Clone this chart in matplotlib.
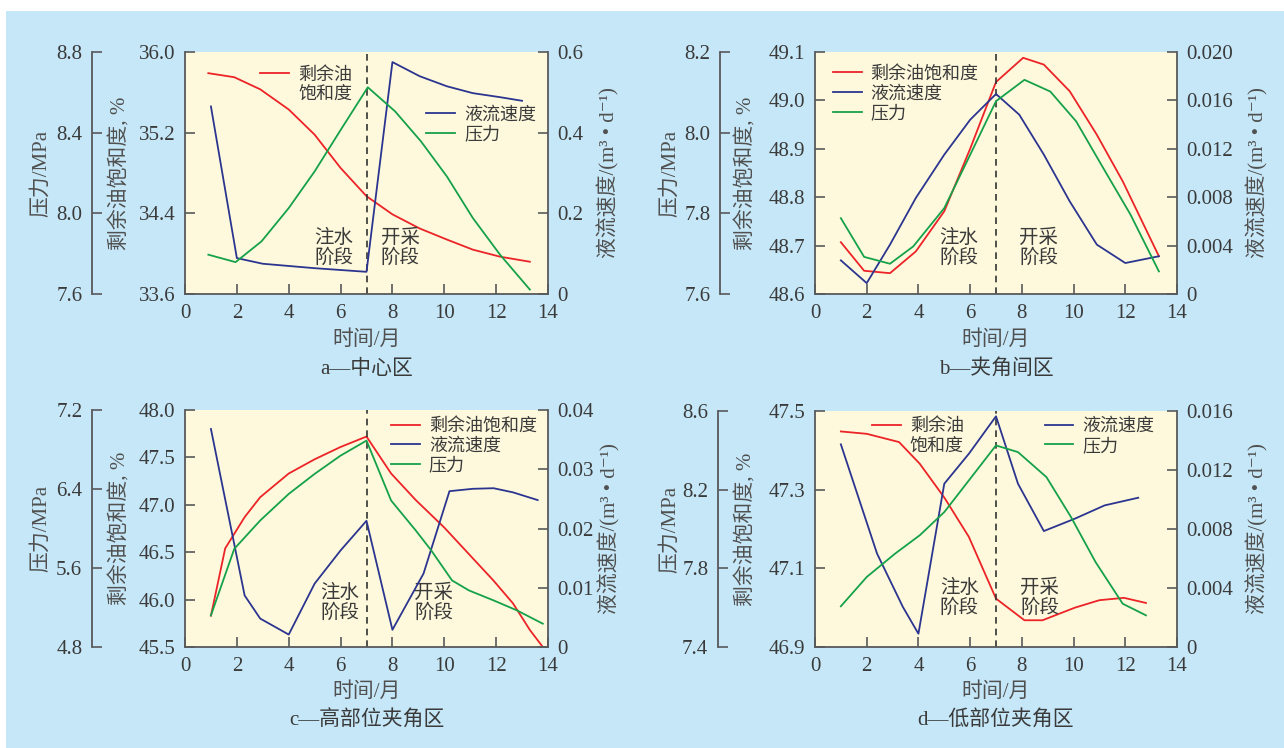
import matplotlib
matplotlib.use("Agg")
import matplotlib.pyplot as plt
from matplotlib.lines import Line2D
from matplotlib.patches import Rectangle

plt.rcParams['font.family'] = ['Liberation Serif', 'Noto Sans CJK SC', 'DejaVu Sans']
plt.rcParams['axes.unicode_minus'] = False

# colours
BG = '#c5e7f7'
PLOT_BG = '#fef9dc'
SPINE = '#58595b'
TXT = '#3a3a3a'
LBL = '#505050'
RED = '#ec2327'
BLUE = '#2b3590'
GREEN = '#15a14a'

# ---- a 中心区 ----
a_sat_x = [0.9, 1.9, 2.9, 4.0, 5.0, 6.0, 7.0, 8.0, 9.05, 10.1, 11.1, 12.15, 13.3]
a_sat = [35.79, 35.75, 35.63, 35.43, 35.18, 34.85, 34.57, 34.39, 34.25, 34.14, 34.04, 33.97, 33.92]
a_vel_x = [1.0, 2.0, 3.0, 5.0, 7.0, 8.0, 9.05, 10.1, 11.1, 12.15, 13.0]
a_vel = [0.465, 0.089, 0.075, 0.064, 0.055, 0.575, 0.540, 0.515, 0.498, 0.488, 0.479]
a_pre_x = [0.9, 1.95, 2.95, 4.0, 5.0, 6.05, 7.05, 8.1, 9.1, 10.1, 11.1, 12.15, 13.3]
a_pre = [7.795, 7.758, 7.861, 8.026, 8.208, 8.423, 8.625, 8.506, 8.357, 8.183, 7.977, 7.795, 7.622]

# ---- b 夹角间区 ----
b_sat_x = [1.0, 1.9, 2.9, 3.9, 5.0, 6.0, 7.0, 8.05, 8.85, 9.85, 10.9, 11.9, 13.3]
b_sat = [48.707, 48.648, 48.643, 48.688, 48.771, 48.900, 49.038, 49.088, 49.074, 49.019, 48.929, 48.833, 48.678]
b_vel_x = [1.0, 2.0, 2.9, 3.9, 5.0, 6.0, 7.0, 7.9, 8.85, 9.85, 10.9, 12.0, 13.3]
b_vel = [0.00278, 0.0009, 0.00408, 0.00794, 0.01152, 0.0144, 0.01653, 0.01482, 0.01152, 0.00766, 0.00408, 0.00256, 0.00312]
b_pre_x = [1.0, 1.9, 2.9, 3.8, 5.0, 6.0, 7.0, 8.1, 9.1, 10.1, 11.15, 12.2, 13.3]
b_pre = [7.788, 7.692, 7.675, 7.718, 7.813, 7.945, 8.078, 8.131, 8.102, 8.028, 7.912, 7.797, 7.656]

# ---- c 高部位夹角区 ----
c_sat_x = [1.0, 1.55, 2.3, 2.9, 4.0, 5.0, 6.0, 7.0, 7.95, 8.9, 10.0, 10.95, 11.9, 12.65, 13.3, 13.8]
c_sat = [45.83, 46.54, 46.87, 47.08, 47.33, 47.48, 47.61, 47.72, 47.33, 47.05, 46.76, 46.48, 46.20, 45.96, 45.68, 45.50]
c_vel_x = [1.0, 2.3, 2.9, 4.0, 5.0, 6.0, 7.0, 8.0, 9.2, 10.2, 11.1, 11.9, 12.65, 13.6]
c_vel = [0.0368, 0.0087, 0.0048, 0.0021, 0.0107, 0.0163, 0.0213, 0.0029, 0.0124, 0.0263, 0.0267, 0.0268, 0.0261, 0.0248]
c_pre_x = [1.0, 1.9, 2.9, 4.0, 5.0, 6.0, 7.0, 7.95, 8.9, 9.5, 10.3, 10.95, 11.9, 12.8, 13.8]
c_pre = [5.12, 5.794, 6.081, 6.35, 6.553, 6.738, 6.89, 6.283, 5.98, 5.777, 5.474, 5.373, 5.272, 5.171, 5.036]

# ---- d 低部位夹角区 ----
d_sat_x = [1.0, 2.0, 3.25, 4.05, 5.0, 5.95, 7.0, 8.1, 8.8, 10.05, 11.0, 11.95, 12.8]
d_sat = [47.448, 47.442, 47.421, 47.366, 47.28, 47.18, 47.023, 46.968, 46.968, 47.0, 47.019, 47.025, 47.012]
d_vel_x = [1.0, 2.4, 3.4, 4.0, 5.0, 5.95, 7.0, 7.85, 8.85, 10.05, 11.2, 12.5]
d_vel = [0.01374, 0.00633, 0.00271, 0.0009, 0.01107, 0.0131, 0.01564, 0.01107, 0.00786, 0.0087, 0.0096, 0.01012]
d_pre_x = [1.0, 2.0, 3.1, 4.05, 5.0, 5.95, 7.0, 7.85, 8.95, 9.9, 10.85, 11.9, 12.8]
d_pre = [7.607, 7.756, 7.875, 7.968, 8.086, 8.247, 8.425, 8.391, 8.264, 8.061, 7.832, 7.62, 7.561]

x_ticks = [0, 2, 4, 6, 8, 10, 12, 14]

a_sat_ticks = [33.6, 34.4, 35.2, 36.0]
a_pre_ticks = [7.6, 8.0, 8.4, 8.8]
a_vel_ticks = [0, 0.2, 0.4, 0.6]
a_vel_labels = ['0', '0.2', '0.4', '0.6']

b_sat_ticks = [48.6, 48.7, 48.8, 48.9, 49.0, 49.1]
b_pre_ticks = [7.6, 7.8, 8.0, 8.2]
b_vel_ticks = [0, 0.004, 0.008, 0.012, 0.016, 0.020]
b_vel_labels = ['0', '0.004', '0.008', '0.012', '0.016', '0.020']

c_sat_ticks = [45.5, 46.0, 46.5, 47.0, 47.5, 48.0]
c_pre_ticks = [4.8, 5.6, 6.4, 7.2]
c_vel_ticks = [0, 0.01, 0.02, 0.03, 0.04]
c_vel_labels = ['0', '0.01', '0.02', '0.03', '0.04']

d_sat_ticks = [46.9, 47.1, 47.3, 47.5]
d_pre_ticks = [7.4, 7.8, 8.2, 8.6]
d_vel_ticks = [0, 0.004, 0.008, 0.012, 0.016]
d_vel_labels = ['0', '0.004', '0.008', '0.012', '0.016']

W, H = 1284, 748
fig = plt.figure(figsize=(W / 100, H / 100), dpi=100)
fig.patch.set_facecolor('white')
fig.add_artist(Rectangle((6 / W, 0), 1, (H - 11) / H, transform=fig.transFigure,
                         facecolor=BG, edgecolor='none', zorder=-10))


def style_ticks(axis_obj, which):
    axis_obj.tick_params(axis=which, direction='in', length=7, width=1.2, color=SPINE,
                         labelsize=15, labelcolor=TXT, pad=7)


def draw_panel(box, outer_px, lab_x, sat_x, sat, vel_x, vel, pre_x, pre,
               sat_ticks, pre_ticks, vel_ticks, vel_labels, title,
               stage_x, stage_y, legend_mode, leg_pos):
    left, top, right, bottom = box
    ax = fig.add_axes([left / W, (H - bottom) / H, (right - left) / W, (bottom - top) / H])
    ax.set_facecolor(PLOT_BG)
    axr = ax.twinx()
    axp = ax.twinx()

    # outer pressure axis on the far left
    axp.spines['left'].set_position(('outward', outer_px * 0.72))
    axp.spines['left'].set_visible(True)
    axp.yaxis.set_ticks_position('left')
    axp.yaxis.set_label_position('left')
    for s in ['right', 'top', 'bottom']:
        axp.spines[s].set_visible(False)
    for s in ['left', 'top', 'bottom']:
        axr.spines[s].set_visible(False)
    ax.spines['top'].set_visible(False)
    ax.spines['right'].set_visible(False)
    for a_ in (ax, axr, axp):
        for s in a_.spines.values():
            s.set_color(SPINE)
            s.set_linewidth(1.3)

    ln_sat, = ax.plot(sat_x, sat, color=RED, lw=1.3)
    ln_vel, = axr.plot(vel_x, vel, color=BLUE, lw=1.3)
    ln_pre, = axp.plot(pre_x, pre, color=GREEN, lw=1.3)
    ax.axvline(7, color='#333333', lw=1.2, ls=(0, (4, 3)))

    ax.set_xlim(0, 14)
    ax.set_xticks(x_ticks)
    ax.set_ylim(sat_ticks[0], sat_ticks[-1])
    ax.set_yticks(sat_ticks)
    ax.set_yticklabels([f'{v:.1f}' for v in sat_ticks])
    axp.set_ylim(pre_ticks[0], pre_ticks[-1])
    axp.set_yticks(pre_ticks)
    axp.set_yticklabels([f'{v:.1f}' for v in pre_ticks])
    axr.set_ylim(vel_ticks[0], vel_ticks[-1])
    axr.set_yticks(vel_ticks)
    axr.set_yticklabels(vel_labels)

    style_ticks(ax, 'both')
    ax.tick_params(axis='x', top=False)
    style_ticks(axr, 'y')
    style_ticks(axp, 'y')

    ax.set_xlabel('时间/月', fontsize=15, color=LBL, va='top')
    ax.xaxis.set_label_coords(0.5, -0.15)
    ax.set_ylabel('剩余油饱和度, %', fontsize=15, color=LBL)
    ax.yaxis.set_label_coords(lab_x[1], 0.5)
    ax.yaxis.label.set_va('center')
    axp.set_ylabel('压力/MPa', fontsize=15, color=LBL)
    axp.yaxis.set_label_coords(lab_x[0], 0.5)
    axp.yaxis.label.set_va('center')
    axr.set_ylabel('液流速度/(m³ • d⁻¹)', fontsize=15, color=LBL)
    axr.yaxis.set_label_coords(lab_x[2], 0.5)
    axr.yaxis.label.set_va('center')

    ax.text(0.5, -0.31, title, transform=ax.transAxes, ha='center', va='center',
            fontsize=15, color=TXT)

    tr = ax.get_xaxis_transform()
    ax.text(stage_x[0], stage_y, '注水\n阶段', transform=tr, ha='center', va='center',
            fontsize=14, color=TXT, linespacing=1.1)
    ax.text(stage_x[1], stage_y, '开采\n阶段', transform=tr, ha='center', va='center',
            fontsize=14, color=TXT, linespacing=1.1)

    leg_kw = dict(frameon=False, fontsize=13, labelcolor=TXT, handlelength=1.6,
                  handletextpad=0.5, borderpad=0, borderaxespad=0, labelspacing=0.15,
                  loc='upper left')
    if legend_mode == 'all':
        axp.legend([ln_sat, ln_vel, ln_pre], ['剩余油饱和度', '液流速度', '压力'],
                   bbox_to_anchor=leg_pos[0], **leg_kw)
    else:
        blank = Line2D([], [], color='none')
        leg1 = axp.legend([ln_sat, blank], ['剩余油', '饱和度'],
                          bbox_to_anchor=leg_pos[0], **leg_kw)
        axp.add_artist(leg1)
        axp.legend([ln_vel, ln_pre], ['液流速度', '压力'],
                   bbox_to_anchor=leg_pos[1], **leg_kw)


draw_panel((185, 52, 548, 294), 93, (-0.397, -0.179, 1.165),
           a_sat_x, a_sat, a_vel_x, a_vel, a_pre_x, a_pre,
           a_sat_ticks, a_pre_ticks, a_vel_ticks, a_vel_labels, 'a—中心区',
           (5.75, 8.3), 0.19, 'split', [(0.207, 0.94), (0.664, 0.774)])
draw_panel((815, 52, 1177, 294), 95, (-0.40, -0.19, 1.221),
           b_sat_x, b_sat, b_vel_x, b_vel, b_pre_x, b_pre,
           b_sat_ticks, b_pre_ticks, b_vel_ticks, b_vel_labels, 'b—夹角间区',
           (5.57, 8.66), 0.19, 'all', [(0.049, 0.943)])
draw_panel((185, 410, 548, 647), 93, (-0.397, -0.179, 1.168),
           c_sat_x, c_sat, c_vel_x, c_vel, c_pre_x, c_pre,
           c_sat_ticks, c_pre_ticks, c_vel_ticks, c_vel_labels, 'c—高部位夹角区',
           (5.97, 9.6), 0.186, 'all', [(0.567, 0.966)])
draw_panel((815, 411, 1177, 647), 97, (-0.40, -0.19, 1.221),
           d_sat_x, d_sat, d_vel_x, d_vel, d_pre_x, d_pre,
           d_sat_ticks, d_pre_ticks, d_vel_ticks, d_vel_labels, 'd—低部位夹角区',
           (5.58, 8.7), 0.21, 'split', [(0.157, 0.97), (0.634, 0.97)])

fig.savefig('out.png', dpi=100, facecolor=fig.get_facecolor())
